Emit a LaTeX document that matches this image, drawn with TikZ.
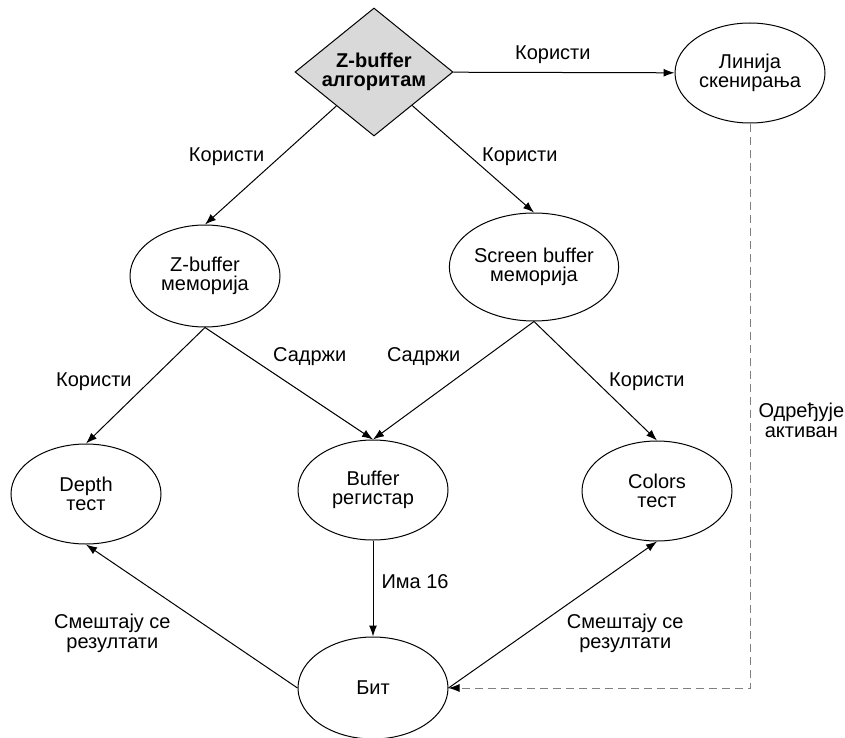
\documentclass[tikz,border=0pt]{standalone}
\usepackage{fontspec}
\setmainfont{Liberation Sans}
\usetikzlibrary{shapes.geometric,arrows.meta,positioning}
\definecolor{algfill}{gray}{0.85}
\definecolor{dashgray}{gray}{0.5}

\begin{document}
\begin{tikzpicture}[x=0.5pt,y=-0.5pt,line width=0.5pt,
	font=\fontsize{10}{9.8}\selectfont,
	entity/.style={ellipse,draw,align=center,inner sep=0pt,minimum width=75pt,minimum height=50pt},
	algorithm/.style={diamond,draw,fill=algfill,aspect=1.25,align=center,inner sep=0pt,
		minimum width=79pt,minimum height=64pt,font=\fontsize{10}{9.8}\selectfont\bfseries},
	rel/.style={-{Latex[length=5.5pt,width=4pt]}},
	activeline/.style={dashgray,dash pattern=on 4pt off 2.5pt,-{Latex[length=5.5pt,width=4pt,black]}},
	lbl/.style={inner sep=0pt,align=center,text=black}]
	\useasboundingbox (0,0) rectangle (845,738);
	\node[algorithm] (alg) at (374,72) {Z-buffer\\алгоритам};
	\node[entity] (lin) at (750,73) {Линија\\скенирања};
	\node[entity,minimum height=51pt] (zbm) at (205,276) {Z-buffer\\меморија};
	\node[entity,minimum width=81.5pt,minimum height=54pt] (sbm) at (534,267) {Screen buffer\\меморија};
	\node[entity] (depth) at (86,494) {Depth\\тест};
	\node[entity] (buf) at (373,490) {Buffer\\регистар};
	\node[entity] (colors) at (657,491) {Colors\\тест};
	\node[entity,minimum height=51pt] (bit) at (373,688) {Бит};
	\draw[rel] (alg) -- node[lbl,pos=0.43,left=7.5pt] {Користи} (zbm.north);
	\draw[rel] (alg) -- node[lbl,pos=0.48,right=5.5pt] {Користи} (sbm.north);
	\draw[rel] (alg) -- node[lbl,pos=0.45,above=4pt] {Користи} (lin);
	\draw[rel] (zbm.south) -- node[lbl,pos=0.47,left=8.5pt] {Користи} (depth.north);
	\draw[rel] (zbm.south) -- node[lbl,pos=0.26,right=12pt] {Садржи} (buf.north);
	\draw[rel] (sbm.south) -- node[lbl,pos=0.3,left=12.5pt] {Садржи} (buf.north);
	\draw[rel] (sbm.south) -- node[lbl,pos=0.51,right=6pt] {Користи} (colors.north);
	\draw[rel] (buf) -- node[lbl,pos=0.43,right=4pt] {Има 16} (bit);
	\draw[rel] (bit.west) -- node[lbl,pos=0.38,left=23pt] {Смештају се\\резултати} (depth.south);
	\draw[rel] (bit.east) -- node[lbl,pos=0.374,right=20pt] {Смештају се\\резултати} (colors.south);
	\draw[activeline] (lin) |- node[lbl,pos=0.263,right=4pt] {Одређује\\активан} (bit);
\end{tikzpicture}
\end{document}
